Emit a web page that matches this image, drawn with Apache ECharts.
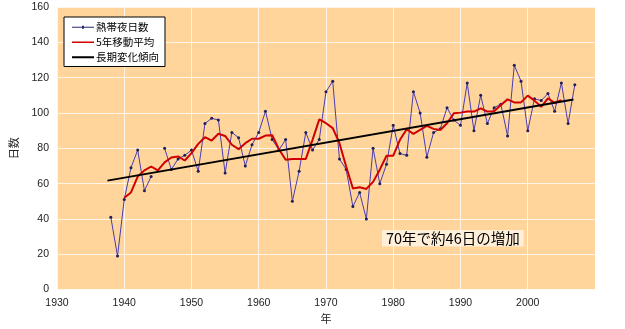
<!DOCTYPE html>
<html><head><meta charset="utf-8">
<script src="https://cdn.jsdelivr.net/npm/echarts@6/dist/echarts.min.js"></script>
<style>html,body{margin:0;padding:0;background:#fff}#c{width:625px;height:329px}</style>
</head><body><div id="c"></div>
<script>
const years = [1938,1939,1940,1941,1942,1943,1944,1945,1946,1947,1948,1949,1950,1951,1952,1953,1954,1955,1956,1957,1958,1959,1960,1961,1962,1963,1964,1965,1966,1967,1968,1969,1970,1971,1972,1973,1974,1975,1976,1977,1978,1979,1980,1981,1982,1983,1984,1985,1986,1987,1988,1989,1990,1991,1992,1993,1994,1995,1996,1997,1998,1999,2000,2001,2002,2003,2004,2005,2006,2007];
const nights = [41,19,51,69,79,56,64,null,80,68,74,76,79,67,94,97,96,66,89,86,70,82,89,101,85,79,85,50,67,89,79,85,112,118,74,68,47,55,40,80,60,71,93,77,76,112,100,75,89,91,103,96,93,117,90,110,94,103,105,87,127,118,90,108,107,111,101,117,94,116];
const maYears = [1940,1941,1942,1943,1944,1945,1946,1947,1948,1949,1950,1951,1952,1953,1954,1955,1956,1957,1958,1959,1960,1961,1962,1963,1964,1965,1966,1967,1968,1969,1970,1971,1972,1973,1974,1975,1976,1977,1978,1979,1980,1981,1982,1983,1984,1985,1986,1987,1988,1989,1990,1991,1992,1993,1994,1995,1996,1997,1998,1999,2000,2001,2002,2003,2004,2005];
const maValues = [52,55,64,67.5,69.7,67.5,72,74.8,75.4,73.1,77.3,82.5,86.3,84.4,88.2,87,82,79.5,82.9,85.4,85.4,87.2,87.4,79.5,73.5,74,74,74,84.8,96.4,94.2,91.4,82.9,69.7,57.2,57.9,57,61,67.9,75.8,75.8,84.8,90.8,88.2,90.4,92.7,91,90.4,94.2,99.8,100.2,100.8,100.8,102.6,100.8,101,104.5,107.7,106,106,109.8,107,103.5,108.3,105.8,107.3];
const trendYears = [1937.5,2006.8];
const trendValues = [61.7,107.6];
const yTicks = [0,20,40,60,80,100,120,140,160];
const xTicks = [1930,1940,1950,1960,1970,1980,1990,2000];

const chart = echarts.init(document.getElementById('c'), null, {renderer:'canvas'});
const font = 'Liberation Sans, Arial, "Noto Sans CJK JP", sans-serif';
const jfont = '"Noto Sans CJK JP", sans-serif';
// legend icons: zero-area anchors at y=0 and y=10 keep the 22x10 box unscaled
const anchor = 'M0,0L22,0L22,0Z M0,10L22,10L22,10Z ';
chart.setOption({
  animation:false,
  backgroundColor:'#ffffff',
  grid:{left:51,right:30,top:7,bottom:39,show:true,backgroundColor:'#FFD59C',borderWidth:0},
  legend:{
    orient:'vertical',left:64,top:17,
    backgroundColor:'#ffffff',borderColor:'#000',borderWidth:1,
    padding:[5,6,4,8],itemGap:4.5,itemWidth:22,itemHeight:10,
    itemStyle:{borderWidth:0},
    textStyle:{fontFamily:jfont,fontSize:10.5,color:'#000',padding:[0,0,0,-3]},
    data:[
      {name:'熱帯夜日数',icon:'path://'+anchor+'M0,4.5L22,4.5L22,5.5L0,5.5Z M10,3.5L12,3.5L12,6.5L10,6.5Z',itemStyle:{color:'#2A2A70'}},
      {name:'5年移動平均',icon:'path://'+anchor+'M0,4.2L22,4.2L22,5.8L0,5.8Z'},
      {name:'長期変化傾向',icon:'path://'+anchor+'M0,4L22,4L22,6L0,6Z'}
    ]
  },
  xAxis:{
    type:'value',min:1930,max:2010,interval:10,
    name:'年',nameLocation:'middle',nameGap:22,
    nameTextStyle:{fontFamily:jfont,fontSize:11,color:'#222'},
    axisLine:{show:false},axisTick:{show:false},
    axisLabel:{fontFamily:font,fontSize:10.5,color:'#222',margin:8,showMaxLabel:false,
      formatter:v=>xTicks.includes(v)?String(v):''},
    splitLine:{show:true,lineStyle:{color:'rgba(255,255,255,0.75)',width:1}}
  },
  yAxis:{
    type:'value',min:0,max:160,interval:20,
    name:'日数',nameLocation:'middle',nameGap:38,nameRotate:90,
    nameTextStyle:{fontFamily:jfont,fontSize:11,color:'#222'},
    axisLine:{show:false},axisTick:{show:false},
    axisLabel:{fontFamily:font,fontSize:10.5,color:'#222',margin:8,
      formatter:v=>yTicks.includes(v)?String(v):''},
    splitLine:{show:true,lineStyle:{color:'rgba(255,255,255,0.75)',width:1}}
  },
  series:[
    {name:'熱帯夜日数',type:'line',data:years.map((y,i)=>[y,nights[i]]),
      connectNulls:false,symbol:'circle',symbolSize:3,showAllSymbol:true,
      lineStyle:{color:'#4A3CB0',width:1},itemStyle:{color:'#1E1E5A'},z:3},
    {name:'5年移動平均',type:'line',data:maYears.map((y,i)=>[y,maValues[i]]),
      symbol:'none',lineStyle:{color:'#D00000',width:2},itemStyle:{color:'#D00000'},z:4},
    {name:'長期変化傾向',type:'line',data:trendYears.map((y,i)=>[y,trendValues[i]]),
      symbol:'none',lineStyle:{color:'#000',width:2},itemStyle:{color:'#000'},z:5}
  ],
  graphic:[{
    type:'text',left:382,top:230,z:10,
    style:{text:'70年で約46日の増加',fontFamily:jfont,fontSize:14.5,fill:'#000',
      backgroundColor:'rgba(255,243,228,0.85)',padding:[1,4,1,4]}
  }]
});
</script></body></html>
